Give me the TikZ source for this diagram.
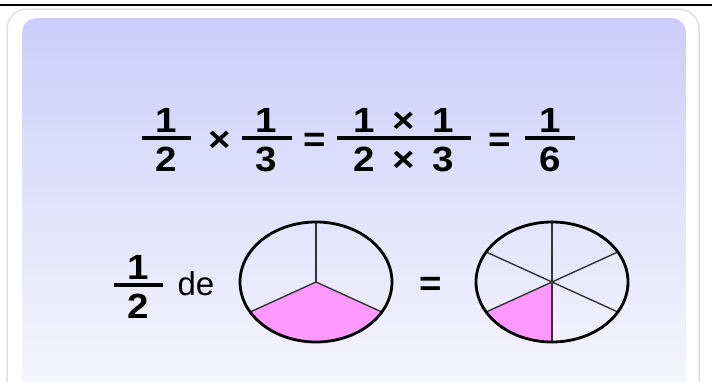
\documentclass[tikz,border=0pt]{standalone}
\usepackage{fontspec}
\setmainfont{Liberation Sans}
\newfontfamily\eqfont[FakeStretch=1.1]{Liberation Sans}
\usetikzlibrary{positioning}
\definecolor{lavTop}{HTML}{CDCDFA}
\definecolor{lavBottom}{HTML}{F7F7FE}
\definecolor{cardEdge}{HTML}{E0E0E0}
\definecolor{pieFill}{HTML}{FF99FF}
\definecolor{spoke}{HTML}{333333}

\begin{document}
\begin{tikzpicture}[x=1pt,y=-1pt,node distance=4pt]
      \tikzset{digit/.style={font=\eqfont\bfseries\fontsize{35}{35}\selectfont,inner sep=0pt}, word/.style={font=\fontsize{33}{33}\selectfont,inner sep=0pt}, fracbar/.style={fill=black,inner sep=0pt,minimum height=3.2pt}, piece/.style={draw=spoke,line width=1.4pt}, rim/.style={draw=black,line width=2.8pt}}
      \useasboundingbox (0,0) rectangle (712,381);
      \fill[white] (0,0) rectangle (712,381);
      \draw[line width=2.5pt] (0,5) -- (712,5);
      % card and panel
      \draw[cardEdge,line width=1.5pt,fill=white,rounded corners=20pt] (7,420) -- (7,9) -- (699,9) -- (699,420);
      \shade[top color=lavTop,bottom color=lavBottom,rounded corners=15pt] (22,400) -- (22,18) -- (686,18) -- (686,400) -- cycle;
      % 1/2 x 1/3 = (1x1)/(2x3) = 1/6
      \node[fracbar,minimum width=49pt] (barA) at (166.5,138) {};
      \node[digit,above=of barA] (numA) {1};
      \node[digit,below=7pt of barA] (denA) {2};
      \node[digit] (timesA) at (220,141) {×};
      \node[fracbar,minimum width=50pt] (barB) at (266.5,138) {};
      \node[digit,above=of barB] (numB) {1};
      \node[digit,below=7pt of barB] (denB) {3};
      \node[digit] (eqA) at (315,142) {=};
      \node[fracbar,minimum width=134pt] (barC) at (404,138) {};
      \node[digit,above=of barC] (numC) {1\hspace{0.5em}×\hspace{0.5em}1};
      \node[digit,below=7pt of barC] (denC) {2\hspace{0.5em}×\hspace{0.5em}3};
      \node[digit] (eqB) at (500,142) {=};
      \node[fracbar,minimum width=50pt] (barD) at (550,138) {};
      \node[digit,above=of barD] (numD) {1};
      \node[digit,below=7pt of barD] (denD) {6};
      % 1/2 de (pie) = (pie)
      \node[fracbar,minimum width=49pt] (barE) at (138,285) {};
      \node[digit,above=of barE] (numE) {1};
      \node[digit,below=7pt of barE] (denE) {2};
      \node[word,anchor=base] (ofWord) at (196,295) {de};
      \coordinate (pieA) at (316,282);
      \fill[pieFill] (pieA) -- ++(30:76 and 60) arc[start angle=30,end angle=150,x radius=76,y radius=60] -- cycle;
      \foreach \a in {30,150,270} \draw[piece] (pieA) -- ++(\a:76 and 60);
      \draw[rim] (pieA) ellipse[x radius=76,y radius=60];
      \node[digit] (eqC) at (431,286) {=};
      \coordinate (pieB) at (552,282);
      \fill[pieFill] (pieB) -- ++(90:76 and 60) arc[start angle=90,end angle=150,x radius=76,y radius=60] -- cycle;
      \foreach \a in {30,90,150,210,270,330} \draw[piece] (pieB) -- ++(\a:76 and 60);
      \draw[rim] (pieB) ellipse[x radius=76,y radius=60];
    \end{tikzpicture}
\end{document}
